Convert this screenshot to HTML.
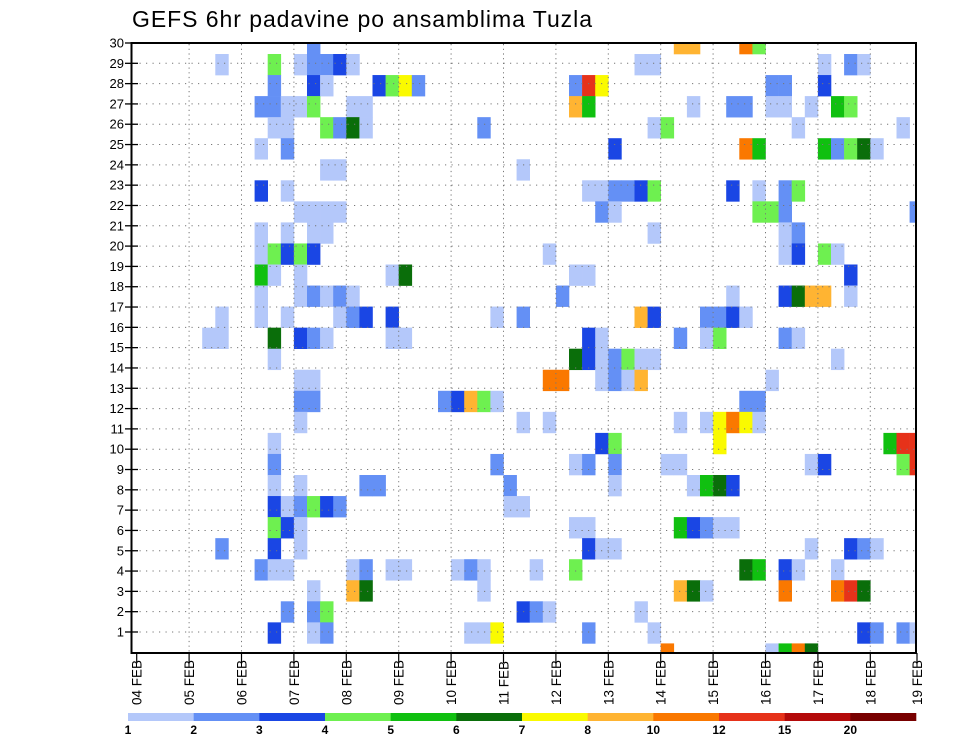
<!DOCTYPE html>
<html><head><meta charset="utf-8"><title>GEFS 6hr padavine po ansamblima Tuzla</title>
<style>
html,body{margin:0;padding:0;background:#fff;}
body{width:960px;height:742px;overflow:hidden;font-family:"Liberation Sans",sans-serif;}
svg{display:block;}
</style></head>
<body>
<svg id="chart" width="960" height="742" viewBox="0 0 960 742" xmlns="http://www.w3.org/2000/svg">
<defs><clipPath id="plotClip"><rect x="132" y="43" width="784" height="610"/></clipPath></defs>
<text x="132" y="27" font-size="23" font-family="Liberation Sans, sans-serif" fill="#000" textLength="460" lengthAdjust="spacing">GEFS 6hr padavine po ansamblima Tuzla</text>
<g id="cells" clip-path="url(#plotClip)"></g>
<g id="grid"></g>
<rect x="131.5" y="43" width="784.5" height="610" fill="none" stroke="#000" stroke-width="2"/>
<g id="yaxis"></g>
<g id="xaxis"></g>
<g id="colorbar"></g>
</svg>
<script>
// ---- data ----
// Rows from top (member 30 band) to bottom; each entry "column:level" where column = 6-hourly step from 04 FEB 00Z
const rowCells = [
"13:2 41:8 42:8 46:9 47:4",
"6:1 10:4 12:1 13:2 14:2 15:3 16:1 38:1 39:1 52:1 54:2 55:1",
"10:2 13:3 14:1 18:3 19:4 20:7 21:2 33:2 34:10 35:7 48:2 49:2 52:3",
"9:2 10:2 11:1 12:1 13:4 16:1 17:1 33:8 34:5 42:1 45:2 46:2 48:1 49:1 51:1 53:5 54:4",
"10:1 11:1 14:4 15:2 16:6 17:1 26:2 39:1 40:4 50:1 58:1",
"9:1 11:2 36:3 46:9 47:5 52:5 53:2 54:4 55:6 56:1",
"14:1 15:1 29:1",
"9:3 11:1 34:1 35:1 36:2 37:2 38:3 39:4 45:3 47:1 49:2 50:4",
"12:1 13:1 14:1 15:1 35:2 36:1 47:4 48:4 49:2 59:2",
"9:1 11:1 13:1 14:1 39:1 49:1 50:2",
"9:1 10:4 11:3 12:4 13:3 31:1 49:1 50:3 52:4 53:1",
"9:5 10:1 12:1 19:1 20:6 33:1 34:1 54:3",
"9:1 12:1 13:2 14:1 15:2 16:1 32:2 45:1 49:3 50:6 51:8 52:8 54:1",
"6:1 9:1 11:1 15:1 16:2 17:3 19:3 27:1 29:2 38:8 39:3 43:2 44:2 45:3 46:1",
"5:1 6:1 10:6 12:3 13:2 14:1 19:1 20:1 34:3 35:1 41:2 43:1 44:4 49:2 50:1",
"10:1 33:6 34:3 35:1 36:2 37:4 38:1 39:1 53:1",
"12:1 13:1 31:9 32:9 35:1 36:2 37:1 38:8 48:1",
"12:2 13:2 23:2 24:3 25:8 26:4 27:1 46:2 47:2",
"12:1 29:1 31:1 41:1 43:1 44:7 45:9 46:7 47:1",
"10:1 35:3 36:4 44:7 57:5 58:10 59:10",
"10:2 27:2 33:1 34:2 36:2 40:1 41:1 51:1 52:3 58:4 59:10",
"10:1 12:1 17:2 18:2 28:2 36:1 42:1 43:5 44:6 45:3",
"10:3 11:1 12:2 13:4 14:3 15:2 28:1 29:1",
"10:4 11:3 12:1 33:1 34:1 41:5 42:3 43:2 44:1 45:1",
"6:2 10:3 12:1 34:3 35:1 36:1 51:1 54:3 55:2 56:1",
"9:2 10:1 11:1 16:1 17:2 19:1 20:1 24:1 25:2 26:1 30:1 33:4 46:6 47:5 49:3 50:1 53:1",
"13:1 16:8 17:6 26:1 41:8 42:6 43:1 49:9 53:9 54:10 55:6",
"11:2 13:2 14:4 29:3 30:2 31:1 38:1",
"10:3 13:1 14:2 25:1 26:1 27:7 34:2 39:1 55:3 56:2 58:2 59:1",
"40:9 48:1 49:5 50:9 51:6"
];
const memberLabels = ["30","29","28","27","26","25","24","23","22","21","20","19","18","17","16","15","14","13","12","11","10","9","8","7","6","5","4","3","2","1"];
const dayLabels = ["04 FEB","05 FEB","06 FEB","07 FEB","08 FEB","09 FEB","10 FEB","11 FEB","12 FEB","13 FEB","14 FEB","15 FEB","16 FEB","17 FEB","18 FEB","19 FEB"];
const levelLabels = ["1","2","3","4","5","6","7","8","10","12","15","20"];
const levelColors = ["#b4c8fa","#6490f5","#1a46e4","#6ef050","#10c010","#0a6e0a","#fafa00","#ffb432","#fa7800","#e6321a","#b40a0a","#780000"];

// ---- scales ----
const NS="http://www.w3.org/2000/svg";
const x0=136.7, cw=13.1;
function xScale(step){return x0+step*cw;}
const yb0=32.95, rh=21.05;
function yScale(row){return yb0+row*rh;}
function tickY(i){return 43+i*20.31;}
function mk(tag,attrs,parent){const e=document.createElementNS(NS,tag);for(const k in attrs)e.setAttribute(k,attrs[k]);parent.appendChild(e);return e;}

// cells
const cg=document.getElementById('cells');
rowCells.forEach((s,row)=>{
  s.split(' ').filter(Boolean).forEach(tok=>{
    const p=tok.split(':');const c=+p[0], lv=+p[1];
    const r=mk('rect',{x:xScale(c).toFixed(2),y:yScale(row).toFixed(2),width:cw+0.3,height:rh+0.3,fill:levelColors[lv-1]},cg);
    
    
  });
});

// grid dots
const gg=document.getElementById('grid');
for(let i=1;i<30;i++){
  const l=mk('line',{x1:133,x2:915,y1:tickY(i),y2:tickY(i),stroke:'#777','stroke-width':1,'stroke-dasharray':'1.2,5.3'},gg);
  
  
}
for(let d=1;d<15;d++){
  const l=mk('line',{x1:xScale(d*4),x2:xScale(d*4),y1:44,y2:652,stroke:'#777','stroke-width':1,'stroke-dasharray':'1.2,3.5'},gg);
  
  
}

// y axis
const ya=document.getElementById('yaxis');
memberLabels.forEach((lab,i)=>{
  const y=tickY(i);
  const t=mk('line',{x1:125,x2:138,y1:y,y2:y,stroke:'#000','stroke-width':1.3},ya);
  
  
  const tx=mk('text',{x:124,y:y+4.5,'text-anchor':'end','font-size':13,fill:'#000'},ya);
  tx.textContent=lab;
  
  
});

// x axis
const xa=document.getElementById('xaxis');
dayLabels.forEach((lab,d)=>{
  let x=xScale(d*4); if(x>916) x=917;
  const t=mk('line',{x1:x,x2:x,y1:653,y2:663,stroke:'#000','stroke-width':1.2},xa);
  
  
  const tx=mk('text',{x:0,y:0,'font-size':13.5,fill:'#000','text-anchor':'start',transform:'translate('+(x+5)+',705) rotate(-90)'},xa);
  tx.textContent=lab;
  
  
});

// colorbar
const cb=document.getElementById('colorbar');
const cbx=128, cbw=(916-128)/levelColors.length;
levelColors.forEach((col,i)=>{
  const r=mk('rect',{x:cbx+i*cbw,y:713,width:cbw+0.3,height:8,fill:col},cb);
  
  
});
levelLabels.forEach((lab,i)=>{
  const tx=mk('text',{x:cbx+i*cbw,y:734,'text-anchor':'middle','font-size':12,'font-weight':'bold',fill:'#000'},cb);
  tx.textContent=lab;
  
  
});
</script>
</body></html>
